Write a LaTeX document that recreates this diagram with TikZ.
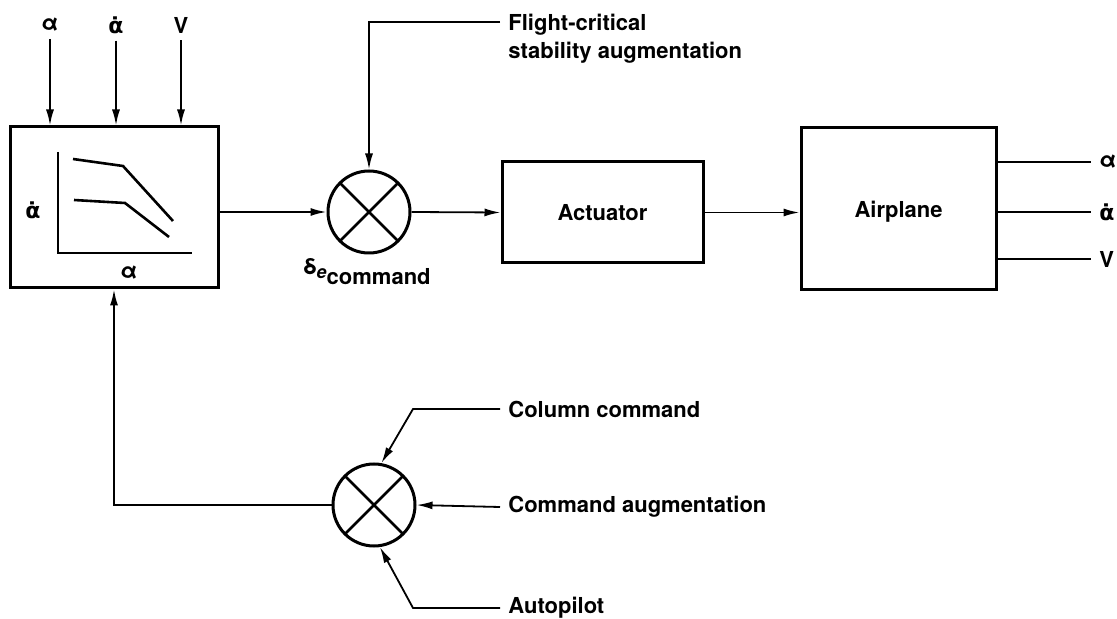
\documentclass[tikz,border=0pt]{standalone}
\usepackage{fontspec}
\setmainfont{TeX Gyre Heros}
\newfontfamily\dvsans{DejaVu Sans}
\usetikzlibrary{arrows.meta}
\newcommand{\alphadot}{{\dvsans α̇}}

\begin{document}
\begin{tikzpicture}[x=0.5pt,y=-0.5pt,font=\bfseries\fontsize{11}{14}\selectfont,
    block/.style={draw,line width=1.5pt,inner sep=0pt},
    sum/.style={draw,circle,line width=1.5pt,minimum size=41pt,inner sep=0pt,
      path picture={\draw[line width=1.3pt]
        (path picture bounding box.north west) -- (path picture bounding box.south east)
        (path picture bounding box.north east) -- (path picture bounding box.south west);}},
    sig/.style={line width=0.9pt},
    arr/.style={sig,-{Latex[length=8pt,width=4pt]}},
    lbl/.style={inner sep=4pt}]
    \useasboundingbox (0,0) rectangle (1117,619);
    % blocks
    \node[block,minimum width=104pt,minimum height=80.5pt] (sched) at (114,207.5) {};
    \node[block,minimum width=100.5pt,minimum height=50.5pt] (act) at (602.5,212.5) {Actuator};
    \node[block,minimum width=97.5pt,minimum height=81pt,text depth=-6pt] (air) at (898.5,209) {Airplane};
    \node[sum] (s1) at (369,212) {};
    \node[sum] (s2) at (374,505) {};
    % schedule curves
    \draw[line width=1.3pt] (58,152) -- (58,253) -- (192,253);
    \draw[line width=1.3pt] (73,159) -- (123,166) -- (173,221);
    \draw[line width=1.3pt] (74,200) -- (125,203) -- (169,237);
    \node (ylab) at (33,210) {\alphadot};
    \node (xlab) at (129,273) {α};
    % inputs on top
    \node (inA) at (50,25) {α};
    \node (inAd) at (116,25) {\alphadot};
    \node (inV) at (181,25) {V};
    \draw[arr] (inA) -- (inA |- sched.north);
    \draw[arr] (inAd) -- (inAd |- sched.north);
    \draw[arr] (inV) -- (inV |- sched.north);
    % forward path
    \draw[arr] (sched.east |- s1.west) -- (s1.west);
    \draw[arr] (s1.east) -- (act.west);
    \draw[arr] (act.east) -- (act.east -| air.west);
    \node (dcmd) at (367,272) {δ\raisebox{-2pt}{\small\itshape e}\raisebox{-5pt}{command}};
    \node[anchor=north west,align=left,inner sep=0pt] (fcrit) at (508,14)
      {Flight-critical\\stability augmentation};
    \coordinate (fc) at (500,22);
    \draw[arr] (fc) -| (s1.north);
    % outputs
    \node[lbl,anchor=west] (outA) at (1091,162) {α};
    \node[lbl,anchor=west] (outAd) at (1091,212) {\alphadot};
    \node[lbl,anchor=west] (outV) at (1091,259) {V};
    \draw[sig] (outA.west -| air.east) -- (outA.west);
    \draw[sig] (outAd.west -| air.east) -- (outAd.west);
    \draw[sig] (outV.west -| air.east) -- (outV.west);
    % command inputs
    \node[lbl,anchor=west] (colcmd) at (500,409) {Column command};
    \node[lbl,anchor=west] (cmdaug) at (500,507) {Command augmentation};
    \node[lbl,anchor=west] (auto) at (500,608) {Autopilot};
    \draw[arr] (colcmd.west) -- ++(-87,0) -- (s2.80);
    \draw[arr] (cmdaug.west) -- (s2.east);
    \draw[arr] (auto.west) -- ++(-87,0) -- (s2.-82);
    \draw[arr] (s2.west) -| (sched.south);
\end{tikzpicture}
\end{document}
